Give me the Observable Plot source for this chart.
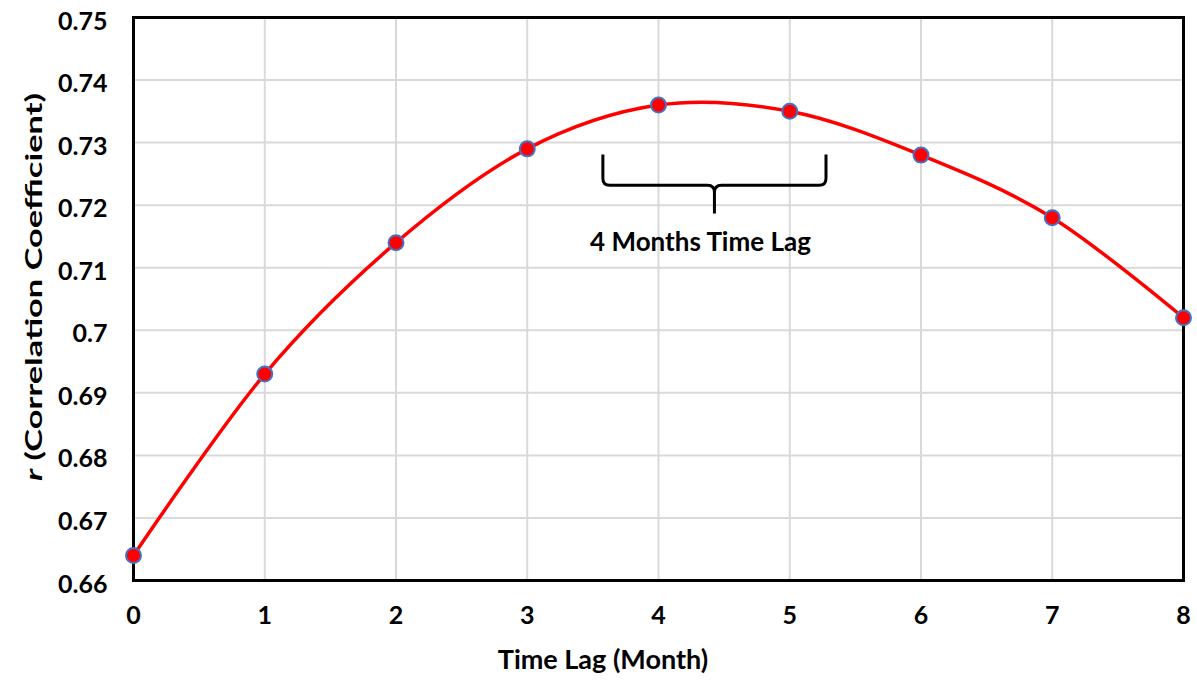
<!DOCTYPE html>
<html>
<head>
<meta charset="utf-8">
<script src="https://cdn.jsdelivr.net/npm/d3@7"></script>
<script src="https://cdn.jsdelivr.net/npm/@observablehq/plot@0.6"></script>
<style>
  html, body { margin: 0; padding: 0; background: #fff; }
  #chart svg { display: block; }
</style>
</head>
<body>
<div id="chart"></div>
<script>
// Data
const lags = [0, 1, 2, 3, 4, 5, 6, 7, 8];
const rValues = [0.664, 0.693, 0.714, 0.729, 0.736, 0.735, 0.728, 0.718, 0.702];
const xTicks = [0, 1, 2, 3, 4, 5, 6, 7, 8];
const yTicks = [0.66, 0.67, 0.68, 0.69, 0.70, 0.71, 0.72, 0.73, 0.74, 0.75];
// Annotation (brace) in data units
const braceX = [3.58, 5.28];
const braceMid = 4.43;
const braceY = [0.7280, 0.7231, 0.7186]; // top of ends, bar, tip
const annotText = ["4 Months Time Lag"];
const annotPos = [4.32, 0.7140];

const data = lags.map((x, i) => ({x, r: rValues[i]}));
const FONT = "Lato, 'Open Sans', sans-serif";

const braceMark = (index, scales, values, dims, context) => {
  const x = scales.x, y = scales.y;
  const xl = x(braceX[0]), xr = x(braceX[1]), xm = x(braceMid);
  const yt = y(braceY[0]), yb = y(braceY[1]), ytip = y(braceY[2]);
  const r = 7;
  const d = `M${xl},${yt} L${xl},${yb - r} Q${xl},${yb} ${xl + r},${yb} L${xm - r},${yb} Q${xm},${yb} ${xm},${yb + r} L${xm},${ytip}` +
            ` M${xm},${yb + r} Q${xm},${yb} ${xm + r},${yb} L${xr - r},${yb} Q${xr},${yb} ${xr},${yb - r} L${xr},${yt}`;
  const p = document.createElementNS("http://www.w3.org/2000/svg", "path");
  p.setAttribute("d", d);
  p.setAttribute("fill", "none");
  p.setAttribute("stroke", "#000");
  p.setAttribute("stroke-width", 3);
  return p;
};

const chart = Plot.plot({
  width: 1197,
  height: 685,
  marginLeft: 133,
  marginRight: 14,
  marginTop: 17,
  marginBottom: 105,
  style: {fontFamily: FONT, fontSize: "25px", fontWeight: "bold", color: "#000", background: "#fff"},
  x: {domain: [0, 8], label: null},
  y: {domain: [0.66, 0.75], label: null},
  marks: [
    Plot.gridX(xTicks, {stroke: "#d9d9d9", strokeOpacity: 1, strokeWidth: 2}),
    Plot.gridY(yTicks, {stroke: "#d9d9d9", strokeOpacity: 1, strokeWidth: 2}),
    Plot.axisX({ticks: xTicks, tickSize: 0, tickPadding: 26, tickFormat: d => String(d), fontWeight: "bold", fontSize: 25, label: null}),
    Plot.axisY({ticks: yTicks, tickSize: 0, tickPadding: 26, tickFormat: d => String(+d.toFixed(2)), fontWeight: "bold", fontSize: 25, dy: 4, label: null}),
    Plot.frame({stroke: "#000", strokeWidth: 3}),
    Plot.line(data, {x: "x", y: "r", stroke: "#ff0000", strokeWidth: 3.5, curve: "cardinal", tension: 0}),
    Plot.dot(data, {x: "x", y: "r", r: 7.5, fill: "#ff0000", stroke: "#4472c4", strokeWidth: 2}),
    braceMark,
    Plot.text(annotText, {x: () => annotPos[0], y: () => annotPos[1], text: d => d, fontSize: 26, fontWeight: "bold", fill: "#000"})
  ]
});

const svg = d3.select(chart);
// x-axis title
svg.append("text")
  .attr("x", 603).attr("y", 662)
  .attr("text-anchor", "middle").attr("dominant-baseline", "middle")
  .attr("font-family", FONT).attr("font-size", 27).attr("font-weight", "bold").attr("fill", "#000")
  .text("Time Lag (Month)");
// y-axis title with italic r
const yt = svg.append("text")
  .attr("transform", "translate(36,287) rotate(-90)")
  .attr("text-anchor", "middle").attr("dominant-baseline", "middle")
  .attr("textLength", 388).attr("lengthAdjust", "spacingAndGlyphs")
  .attr("font-family", FONT).attr("font-size", 23).attr("font-weight", "bold").attr("fill", "#000");
yt.append("tspan").attr("font-style", "italic").text("r");
yt.append("tspan").text(" (Correlation Coefficient)");

document.getElementById("chart").appendChild(chart);
</script>
</body>
</html>
